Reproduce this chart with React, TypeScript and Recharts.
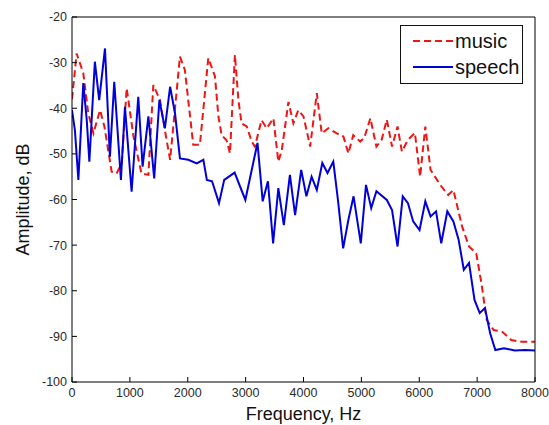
import React from "react"
import { Legend, Line, LineChart, XAxis, YAxis } from "recharts"

const musicFreq = [0, 80, 195, 280, 370, 485, 560, 685, 770, 860, 945, 1060, 1200, 1320, 1405, 1520, 1605, 1695, 1865, 1950, 2095, 2210, 2355, 2470, 2530, 2585, 2670, 2730, 2815, 2875, 2930, 3020, 3105, 3160, 3275, 3365, 3480, 3565, 3625, 3740, 3825, 3910, 4000, 4115, 4230, 4315, 4430, 4575, 4690, 4775, 4860, 4980, 5050, 5155, 5260, 5350, 5440, 5530, 5625, 5700, 5805, 5925, 6015, 6105, 6195, 6380, 6500, 6590, 6740, 6860, 6985, 7075, 7165, 7285, 7435, 7590, 7770, 8000]
const musicAmp = [-38, -28, -32.3, -41, -45.5, -40.4, -44, -53.9, -54.3, -52, -35.6, -46, -54.3, -54.6, -34.9, -38.2, -44.8, -51.3, -28.7, -31.6, -48, -48, -29, -33, -41.8, -45.9, -47, -49.9, -28.3, -38.2, -43.3, -44, -47.3, -48.4, -42.6, -44.4, -42.2, -51.7, -49.2, -38.6, -43.3, -40.4, -41.8, -48.4, -36.7, -45.5, -44.4, -45.5, -46.2, -49.9, -45.9, -47.3, -46.5, -42.2, -48.4, -46.9, -42.5, -48.4, -44, -49.5, -46.9, -45.4, -55, -44, -53.5, -57.1, -59, -57.9, -65.9, -70.3, -71.8, -78.4, -86.4, -88.6, -89, -90.8, -91.2, -91.2]

const speechFreq = [0, 50, 110, 195, 255, 300, 395, 470, 570, 655, 730, 845, 915, 1030, 1145, 1220, 1320, 1420, 1510, 1605, 1695, 1780, 1865, 2010, 2155, 2270, 2330, 2420, 2540, 2630, 2810, 2995, 3205, 3295, 3385, 3475, 3565, 3660, 3765, 3855, 3960, 4050, 4140, 4230, 4325, 4415, 4515, 4595, 4685, 4775, 4865, 4990, 5080, 5170, 5260, 5440, 5530, 5625, 5715, 5805, 5895, 6005, 6105, 6195, 6290, 6380, 6485, 6590, 6680, 6770, 6860, 6955, 7045, 7135, 7225, 7315, 7465, 7650, 7830, 8000]
const speechAmp = [-40.4, -44.8, -55.7, -34.5, -42.6, -51.7, -29.8, -38.2, -26.9, -50.6, -34.2, -55.7, -39.7, -58.3, -37.5, -52.8, -41.8, -55.4, -38.2, -44.4, -35.3, -41.1, -51, -51.3, -52.1, -51.3, -55.7, -56, -60.8, -55.7, -54.1, -60.1, -47.6, -60.4, -56, -69.6, -57.5, -65.6, -54.6, -63.4, -53.5, -59.3, -55, -57.9, -52, -54.2, -51.7, -60.1, -70.7, -64.5, -59.3, -69.6, -56.8, -61.9, -58.2, -60.1, -62.3, -70.3, -59.3, -60.8, -64.8, -66.7, -60.4, -63.7, -62.6, -69.6, -62.6, -64.8, -68.8, -75.4, -73.9, -82, -84.9, -83.8, -89.3, -93, -92.6, -93.1, -93, -93.1]

const xTicks = [0, 1000, 2000, 3000, 4000, 5000, 6000, 7000, 8000]
const yTicks = [-100, -90, -80, -70, -60, -50, -40, -30, -20]

const music = musicFreq.map((f, i) => ({ f, amp: musicAmp[i] }))
const speech = speechFreq.map((f, i) => ({ f, amp: speechAmp[i] }))

const FONT = "'Liberation Sans', Arial, sans-serif"
const RED = "#ee1515"
const BLUE = "#0000d8"
const tickStyle = { fontSize: 12.5, fill: "#2a2a2a", fontFamily: FONT }

function LegendBox() {
  const rows = [
    { name: "music", color: RED, dash: "7 4" },
    { name: "speech", color: BLUE, dash: undefined },
  ]
  return (
    <div
      style={{
        border: "1px solid #111",
        background: "#fff",
        width: 121,
        height: 53,
        boxSizing: "content-box",
        fontFamily: FONT,
        fontSize: 20,
        color: "#111",
        paddingTop: 2,
        paddingBottom: 2,
      }}
    >
      {rows.map((r) => (
        <div key={r.name} style={{ display: "flex", alignItems: "center", height: 26, lineHeight: "26px" }}>
          <svg width={52} height={10} style={{ marginLeft: 10 }}>
            <line x1={2} x2={42} y1={5} y2={5} stroke={r.color} strokeWidth={2} strokeDasharray={r.dash} />
          </svg>
          <span style={{ marginLeft: -8 }}>{r.name}</span>
        </div>
      ))}
    </div>
  )
}

export default function App() {
  return (
    <div style={{ position: "absolute", left: 0, top: 0, background: "#fff" }}>
      <LineChart width={549} height={425} margin={{ top: 16, right: 13, bottom: 13, left: 32 }}>
        <XAxis
          xAxisId="main"
          dataKey="f"
          type="number"
          domain={[0, 8000]}
          ticks={xTicks}
          allowDataOverflow
          stroke="#000"
          tickSize={-5}
          tickMargin={11}
          tick={tickStyle}
          height={30}
          label={{
            content: (p: any) => (
              <text
                x={p.viewBox.x + p.viewBox.width / 2}
                y={420}
                textAnchor="middle"
                fontSize={18}
                fontFamily={FONT}
                fill="#111"
              >
                Frequency, Hz
              </text>
            ),
          }}
        />
        <XAxis
          xAxisId="top"
          orientation="top"
          type="number"
          domain={[0, 8000]}
          ticks={xTicks}
          stroke="#000"
          tickSize={-5}
          tick={false}
          height={1}
        />
        <YAxis
          yAxisId="main"
          type="number"
          domain={[-100, -20]}
          ticks={yTicks}
          allowDataOverflow
          stroke="#000"
          tickSize={-5}
          tickMargin={10}
          tick={tickStyle}
          width={40}
          label={{
            content: (p: any) => {
              const cx = 29
              const cy = p.viewBox.y + p.viewBox.height / 2
              return (
                <text
                  x={cx}
                  y={cy}
                  textAnchor="middle"
                  fontSize={18}
                  fontFamily={FONT}
                  fill="#111"
                  transform={`rotate(-90, ${cx}, ${cy})`}
                >
                  Amplitude, dB
                </text>
              )
            },
          }}
        />
        <YAxis
          yAxisId="right"
          orientation="right"
          type="number"
          domain={[-100, -20]}
          ticks={yTicks}
          stroke="#000"
          tickSize={-5}
          tick={false}
          width={1}
        />
        <Legend
          layout="horizontal"
          verticalAlign="middle"
          align="center"
          wrapperStyle={{ top: 25, left: 400, width: 123 }}
          content={() => <LegendBox />}
        />
        <Line
          xAxisId="main"
          yAxisId="main"
          data={music}
          dataKey="amp"
          name="music"
          type="linear"
          stroke={RED}
          strokeWidth={2}
          strokeDasharray="7 4"
          dot={false}
          isAnimationActive={false}
        />
        <Line
          xAxisId="main"
          yAxisId="main"
          data={speech}
          dataKey="amp"
          name="speech"
          type="linear"
          stroke={BLUE}
          strokeWidth={2}
          dot={false}
          isAnimationActive={false}
        />
      </LineChart>
    </div>
  )
}
